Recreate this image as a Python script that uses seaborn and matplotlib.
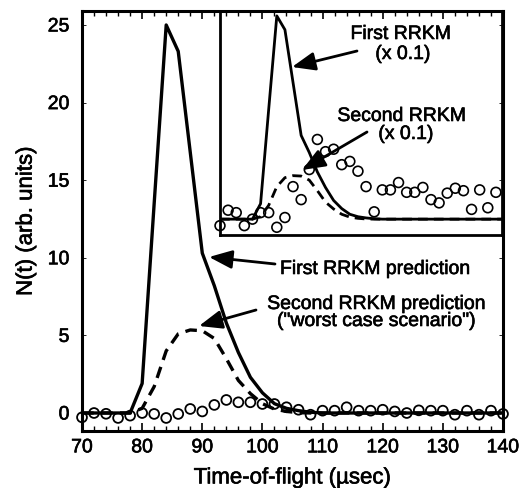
import numpy as np
import pandas as pd
import matplotlib
matplotlib.use("Agg")
import matplotlib.pyplot as plt
import matplotlib.patheffects as pe
from matplotlib.ticker import MultipleLocator
import seaborn as sns

# ---------------- data ----------------
time_us = [70, 72, 74, 76, 78, 80, 82, 84, 86, 88, 90, 92, 94, 96, 98, 100,
           102, 104, 106, 108, 110, 112, 114, 116, 118, 120, 122, 124, 126,
           128, 130, 132, 134, 136, 138, 140]
measured = [-0.28, 0.0, -0.05, -0.32, -0.17, 0.0, -0.06, -0.32, -0.06, 0.26,
            0.10, 0.52, 0.84, 0.69, 0.69, 0.58, 0.58, 0.37, 0.21, -0.11,
            0.15, 0.15, 0.37, 0.15, 0.15, 0.21, 0.10, 0.0, 0.17, 0.15,
            0.15, -0.11, 0.15, -0.11, 0.15, -0.06]
first_rrkm = [0, 0, 0, 0, 0, 1.9, 13.5, 25.0, 23.3, 16.8, 10.3, 8.2, 5.8,
              3.9, 2.3, 1.3, 0.6, 0.3, 0.15, 0.05, 0, 0, 0, 0, 0, 0, 0, 0,
              0, 0, 0, 0, 0, 0, 0, 0]
second_rrkm = [0, 0, 0, 0, 0, 0.3, 1.7, 4.0, 5.1, 5.35, 5.3, 4.8, 3.5, 2.1,
               1.25, 0.6, 0.25, 0.1, 0.02, 0, 0, 0, 0, 0, 0, 0, 0, 0, 0, 0,
               0, 0, 0, 0, 0, 0]

inset_time_us = [70, 72, 74, 76, 78, 80, 82, 84, 86, 88, 90, 92, 94, 96, 98,
                 100, 102, 104, 106, 108, 110, 112, 114, 116, 118, 120, 122,
                 124, 126, 128, 130, 132, 134, 136, 138]
inset_measured = [-0.08, 0.11, 0.08, -0.08, 0.0, 0.08, 0.08, -0.10, 0.02,
                  0.40, 0.24, 0.61, 0.98, 0.83, 0.86, 0.67, 0.71, 0.59, 0.40,
                  0.09, 0.36, 0.36, 0.45, 0.33, 0.33, 0.39, 0.24, 0.20, 0.32,
                  0.38, 0.35, 0.12, 0.36, 0.14, 0.33]
inset_scale = 0.1

x_ticks = [70, 80, 90, 100, 110, 120, 130, 140]
y_ticks = [0, 5, 10, 15, 20, 25]

# ---------------- style ----------------
sns.set_theme(style="white")
plt.rcParams["font.family"] = ["Liberation Sans", "DejaVu Sans"]
plt.rcParams["axes.edgecolor"] = "black"
plt.rcParams["text.color"] = "black"
plt.rcParams["axes.labelcolor"] = "black"
plt.rcParams["xtick.color"] = "black"
plt.rcParams["ytick.color"] = "black"
plt.rcParams["mathtext.default"] = "regular"

BOLDEN = [pe.withStroke(linewidth=0.45, foreground="black")]

W, H = 520, 489
fig = plt.figure(figsize=(W / 100, H / 100), dpi=100)


def fpos(px, py):
    return (px / W, 1 - py / H)


L, R, T, B = 82, 503, 12, 432
ax = fig.add_axes([L / W, 1 - B / H, (R - L) / W, (B - T) / H])
ax.set_facecolor("white")

df = pd.DataFrame({"t": time_us, "meas": measured,
                   "first": first_rrkm, "second": second_rrkm})

sns.lineplot(data=df, x="t", y="first", ax=ax, color="black", lw=2.4,
             clip_on=False, zorder=3)
sns.lineplot(data=df, x="t", y="second", ax=ax, color="black", lw=2.4,
             linestyle=(0, (3.5, 2.2)), clip_on=False, zorder=3)
sns.scatterplot(data=df, x="t", y="meas", ax=ax, marker="o", s=50,
                facecolor="none", edgecolor="black", linewidth=1.3,
                clip_on=False, zorder=4)

ax.set_xlim(70, 140)
ax.set_ylim(-1.16, 25.9)
ax.set_xticks(x_ticks)
ax.set_yticks(y_ticks)
ax.xaxis.set_minor_locator(MultipleLocator(2))
ax.tick_params(axis="x", which="major", direction="in", length=6, width=1.2,
               top=True, bottom=True, labelsize=14, pad=6, colors="black")
ax.tick_params(axis="x", which="minor", direction="in", length=3.5, width=1.0,
               top=True, bottom=True)
ax.tick_params(axis="y", which="major", direction="in", length=3, width=0.6,
               left=True, right=True, labelsize=14, pad=9, colors="black")
for s in ax.spines.values():
    s.set_linewidth(2.2)
    s.set_color("black")
ax.set_xlabel("Time-of-flight (\u00b5sec)", fontsize=16, labelpad=8)
ax.set_ylabel("N(t) (arb. units)", fontsize=16, labelpad=8)
for t in ax.get_xticklabels() + ax.get_yticklabels() + [ax.xaxis.label, ax.yaxis.label]:
    t.set_path_effects(BOLDEN)

# ---------------- inset ----------------
IL, IR, IT, IB = 220, 502, 12, 236
axi = fig.add_axes([IL / W, 1 - IB / H, (IR - IL) / W, (IB - IT) / H])
axi.set_facecolor("none")
dfi = pd.DataFrame({"t": inset_time_us, "meas": inset_measured})
df_scaled = pd.DataFrame({"t": time_us,
                          "first": np.array(first_rrkm) * inset_scale,
                          "second": np.array(second_rrkm) * inset_scale})
sns.lineplot(data=df_scaled, x="t", y="first", ax=axi, color="black", lw=2.0,
             zorder=3)
sns.lineplot(data=df_scaled, x="t", y="second", ax=axi, color="black", lw=2.0,
             linestyle=(0, (3.5, 2.2)), zorder=3)
sns.scatterplot(data=dfi, x="t", y="meas", ax=axi, marker="o", s=50,
                facecolor="none", edgecolor="black", linewidth=1.2,
                clip_on=False, zorder=4)
axi.set_xlim(70, 139.5)
axi.set_ylim(-0.195, 2.56)
axi.set_xticks([])
axi.set_yticks([])
axi.set_xlabel("")
axi.set_ylabel("")
for s in axi.spines.values():
    s.set_linewidth(2.0)
    s.set_color("black")

# ---------------- annotations ----------------
FS = 14
arrow_kw = dict(arrowstyle="-|>,head_length=1.0,head_width=0.4", lw=2.0,
                color="black", shrinkA=0, shrinkB=0)


def arrow(tail, head):
    fig.add_artist(matplotlib.patches.FancyArrowPatch(
        fpos(*tail), fpos(*head), transform=fig.transFigure,
        mutation_scale=14, **arrow_kw))


def label(txt, px, py, ha="left"):
    x, y = fpos(px, py)
    fig.text(x, y, txt, fontsize=FS, ha=ha, va="baseline", color="black",
             path_effects=BOLDEN)


label("First RRKM prediction", 280, 275)
arrow((275, 265), (209, 258))
label("Second RRKM prediction", 377, 310, ha="center")
label("(\"worst case scenario\")", 377, 327, ha="center")
arrow((256, 311), (199, 327))

label("First RRKM", 401, 40, ha="center")
label("(x 0.1)", 403, 60, ha="center")
arrow((357, 52), (292, 68))
label("Second RRKM", 402, 122, ha="center")
label("(x 0.1)", 406, 140, ha="center")
arrow((367, 133), (302, 171))

fig.savefig("out.png", dpi=100)
